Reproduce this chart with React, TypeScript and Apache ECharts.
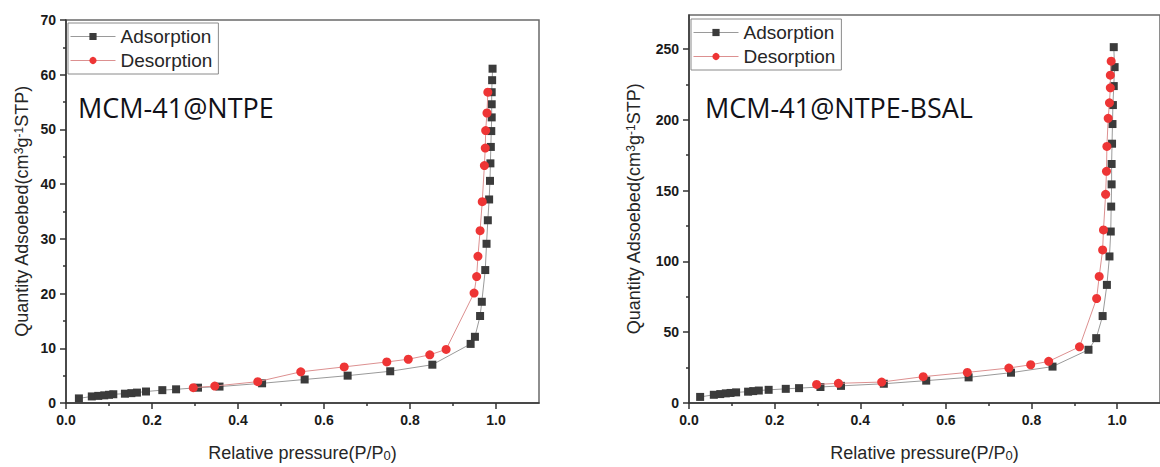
import React, { useEffect, useRef } from "react";
import * as echarts from "echarts";

// ---- tick values ----
const xTicks = [0, 0.2, 0.4, 0.6, 0.8, 1.0];
const xMinorTicks = [0.1, 0.3, 0.5, 0.7, 0.9];
const yTicksRight = [0, 50, 100, 150, 200, 250];
const yMinorTicksRight = [25, 75, 125, 175, 225];
const seriesNames = ["Adsorption", "Desorption"];
const sampleLabels = ["MCM-41@NTPE", "MCM-41@NTPE-BSAL"];

// ---- MCM-41@NTPE ----
const adsorptionNTPE: [number, number][] = [
  [0.03, 0.84], [0.06, 1.2], [0.075, 1.3], [0.089, 1.4], [0.1, 1.5], [0.11, 1.6],
  [0.137, 1.7], [0.152, 1.8], [0.165, 1.9], [0.186, 2.1], [0.224, 2.35], [0.256, 2.5],
  [0.307, 2.8], [0.357, 3.0], [0.456, 3.6], [0.555, 4.3], [0.655, 5.0], [0.754, 5.8],
  [0.852, 7.0], [0.941, 10.8], [0.951, 12.1], [0.963, 15.9], [0.967, 18.5], [0.975, 24.3],
  [0.978, 29.1], [0.981, 33.4], [0.984, 37.2], [0.986, 40.6], [0.987, 43.8], [0.988, 46.8],
  [0.989, 49.7], [0.99, 52.2], [0.99, 54.6], [0.99, 56.8], [0.991, 59.0], [0.992, 61.1],
];
const desorptionNTPE: [number, number][] = [
  [0.296, 2.8], [0.346, 3.1], [0.446, 3.9], [0.546, 5.7], [0.647, 6.6], [0.746, 7.5],
  [0.796, 8.0], [0.846, 8.8], [0.884, 9.8], [0.949, 20.1], [0.955, 23.1], [0.958, 26.8],
  [0.963, 31.5], [0.968, 36.8], [0.973, 43.4], [0.975, 46.6], [0.976, 49.8], [0.979, 53.0],
  [0.981, 56.8],
];

// ---- MCM-41@NTPE-BSAL ----
const adsorptionBSAL: [number, number][] = [
  [0.026, 4.3], [0.058, 5.8], [0.073, 6.3], [0.086, 6.8], [0.097, 7.1], [0.11, 7.5],
  [0.138, 8.0], [0.15, 8.4], [0.163, 8.8], [0.186, 9.3], [0.226, 10.0], [0.257, 10.5],
  [0.307, 11.3], [0.355, 12.1], [0.455, 13.6], [0.554, 15.8], [0.653, 18.1], [0.752, 21.4],
  [0.849, 25.7], [0.933, 37.6], [0.951, 45.8], [0.966, 61.4], [0.976, 83.4], [0.982, 103.5],
  [0.985, 121.1], [0.986, 138.7], [0.987, 154.4], [0.987, 168.8], [0.988, 183.1], [0.989, 197.0],
  [0.99, 210.4], [0.992, 223.8], [0.994, 237.2], [0.992, 251.3],
];
const desorptionBSAL: [number, number][] = [
  [0.298, 13.1], [0.349, 13.9], [0.45, 14.8], [0.547, 18.6], [0.65, 21.6], [0.747, 24.7],
  [0.798, 27.0], [0.84, 29.4], [0.912, 39.7], [0.952, 73.8], [0.958, 89.4], [0.966, 108.1],
  [0.968, 122.2], [0.973, 147.4], [0.975, 163.6], [0.976, 181.2], [0.979, 201.0], [0.982, 212.0],
  [0.984, 222.6], [0.984, 231.5], [0.986, 241.4],
];

const AX = "#333333";
const FONT = "'Liberation Sans', Arial, sans-serif";
const ADS_MARK = "#3b3b3b";
const ADS_LINE = "#9a9a9a";
const DES_MARK = "#ee3535";
const DES_LINE = "#dc9090";

const xNameRich = {
  t: { fontSize: 18, fontFamily: FONT, color: "#262626" },
  sub: { fontSize: 13, fontFamily: FONT, color: "#262626", verticalAlign: "bottom" as const },
};
const yNameRich = {
  t: { fontSize: 18, fontFamily: FONT, color: "#262626" },
  sup: { fontSize: 12, fontFamily: FONT, color: "#262626", verticalAlign: "top" as const },
};
const xName = "{t|Relative pressure(P/P}{sub|0}{t|)}";
const yName = "{t|Quantity Adsoebed(cm}{sup|3}{t|g}{sup|-1}{t|STP)}";

function mainX(gridIndex: number) {
  return {
    type: "value" as const,
    gridIndex,
    min: 0,
    max: 1.1,
    interval: 0.2,
    position: "bottom" as const,
    name: xName,
    nameLocation: "middle" as const,
    nameGap: 41,
    nameTextStyle: { rich: xNameRich },
    axisLine: { show: true, lineStyle: { color: AX, width: 1.5 } },
    axisTick: { show: true, length: 6, customValues: xTicks, lineStyle: { color: AX, width: 1.5 } },
    axisLabel: {
      customValues: xTicks,
      margin: 10,
      fontSize: 14,
      fontWeight: "bold" as const,
      fontFamily: FONT,
      color: "#1a1a1a",
      formatter: (v: number) => v.toFixed(1),
    },
    splitLine: { show: false },
  };
}
function minorX(gridIndex: number) {
  return {
    type: "value" as const,
    gridIndex,
    min: 0,
    max: 1.1,
    interval: 0.1,
    position: "bottom" as const,
    axisLine: { show: false },
    axisTick: { show: true, length: 3, customValues: xMinorTicks, lineStyle: { color: AX, width: 1.5 } },
    axisLabel: { show: false },
    splitLine: { show: false },
  };
}

const lineSeries = (name: string, data: [number, number][], idx: number, ads: boolean) => ({
  name,
  type: "line" as const,
  xAxisIndex: idx * 2,
  yAxisIndex: idx === 0 ? 0 : 1,
  data,
  symbol: ads ? "rect" : "circle",
  symbolSize: ads ? 8 : 9,
  itemStyle: { color: ads ? ADS_MARK : DES_MARK },
  lineStyle: { color: ads ? ADS_LINE : DES_LINE, width: 1 },
  emphasis: { disabled: true },
  z: ads ? 2 : 3,
});

export default function App() {
  const ref = useRef<HTMLDivElement>(null);
  useEffect(() => {
    if (!ref.current) return;
    const chart = echarts.init(ref.current, undefined, { renderer: "svg" });
    const legendCommon = {
      orient: "vertical" as const,
      itemWidth: 45,
      itemHeight: 9,
      itemGap: 5,
      padding: [4, 6, 4, 2],
      borderColor: "#8a8a8a",
      borderWidth: 1,
      borderRadius: 0,
      backgroundColor: "#ffffff",
      textStyle: { fontSize: 19, fontFamily: FONT, color: "#262626" },
      data: [
        { name: seriesNames[0], lineStyle: { color: ADS_LINE, width: 1 }, itemStyle: { color: ADS_MARK } },
        { name: seriesNames[1], lineStyle: { color: DES_LINE, width: 1 }, itemStyle: { color: DES_MARK } },
      ],
      selectedMode: false,
    };
    chart.setOption({
      animation: false,
      backgroundColor: "#ffffff",
      grid: [
        { left: 66, top: 20, width: 473, height: 384, show: true, borderColor: "#6a6a6a", borderWidth: 1.5, containLabel: false },
        { left: 689, top: 15, width: 483, height: 389, show: true, borderColor: "#6a6a6a", borderWidth: 1.5, containLabel: false },
      ],
      xAxis: [mainX(0), minorX(0), mainX(1), minorX(1)],
      yAxis: [
        {
          type: "value",
          gridIndex: 0,
          min: 0,
          max: 70,
          interval: 10,
          name: yName,
          nameLocation: "middle",
          nameGap: 35,
          nameTextStyle: { rich: yNameRich },
          axisLine: { show: true, lineStyle: { color: AX, width: 1.5 } },
          axisTick: { show: true, length: 6, lineStyle: { color: AX, width: 1.5 } },
          minorTick: { show: true, splitNumber: 2, length: 3, lineStyle: { color: AX, width: 1.5 } },
          axisLabel: { margin: 10, fontSize: 14, fontWeight: "bold", fontFamily: FONT, color: "#1a1a1a" },
          splitLine: { show: false },
          minorSplitLine: { show: false },
        },
        {
          type: "value",
          gridIndex: 1,
          min: 0,
          max: 274,
          interval: 50,
          name: yName,
          nameLocation: "middle",
          nameGap: 46,
          nameTextStyle: { rich: yNameRich },
          axisLine: { show: true, lineStyle: { color: AX, width: 1.5 } },
          axisTick: { show: true, length: 6, customValues: yTicksRight, lineStyle: { color: AX, width: 1.5 } },
          axisLabel: { customValues: yTicksRight, margin: 10, fontSize: 14, fontWeight: "bold", fontFamily: FONT, color: "#1a1a1a" },
          splitLine: { show: false },
        },
        {
          type: "value",
          gridIndex: 1,
          min: 0,
          max: 274,
          interval: 25,
          position: "left",
          axisLine: { show: false },
          axisTick: { show: true, length: 3, customValues: yMinorTicksRight, lineStyle: { color: AX, width: 1.5 } },
          axisLabel: { show: false },
          splitLine: { show: false },
        },
      ],
      legend: [
        { ...legendCommon, left: 68, top: 23 },
        { ...legendCommon, left: 691, top: 19 },
      ],
      graphic: [
        {
          type: "text",
          x: 78,
          y: 107,
          style: { text: sampleLabels[0], fontSize: 27, fontFamily: "'Open Sans', sans-serif", fill: "#111118", align: "left", verticalAlign: "middle" },
        },
        {
          type: "text",
          x: 705,
          y: 107,
          style: { text: sampleLabels[1], fontSize: 27, fontFamily: "'Open Sans', sans-serif", fill: "#111118", align: "left", verticalAlign: "middle" },
        },
      ],
      series: [
        lineSeries(seriesNames[0], adsorptionNTPE, 0, true),
        lineSeries(seriesNames[1], desorptionNTPE, 0, false),
        lineSeries(seriesNames[0], adsorptionBSAL, 1, true),
        lineSeries(seriesNames[1], desorptionBSAL, 1, false),
      ],
    });
    return () => chart.dispose();
  }, []);
  return (
    <div
      ref={ref}
      style={{ position: "fixed", left: 0, top: 0, width: 1160, height: 467, background: "#fff" }}
    />
  );
}
